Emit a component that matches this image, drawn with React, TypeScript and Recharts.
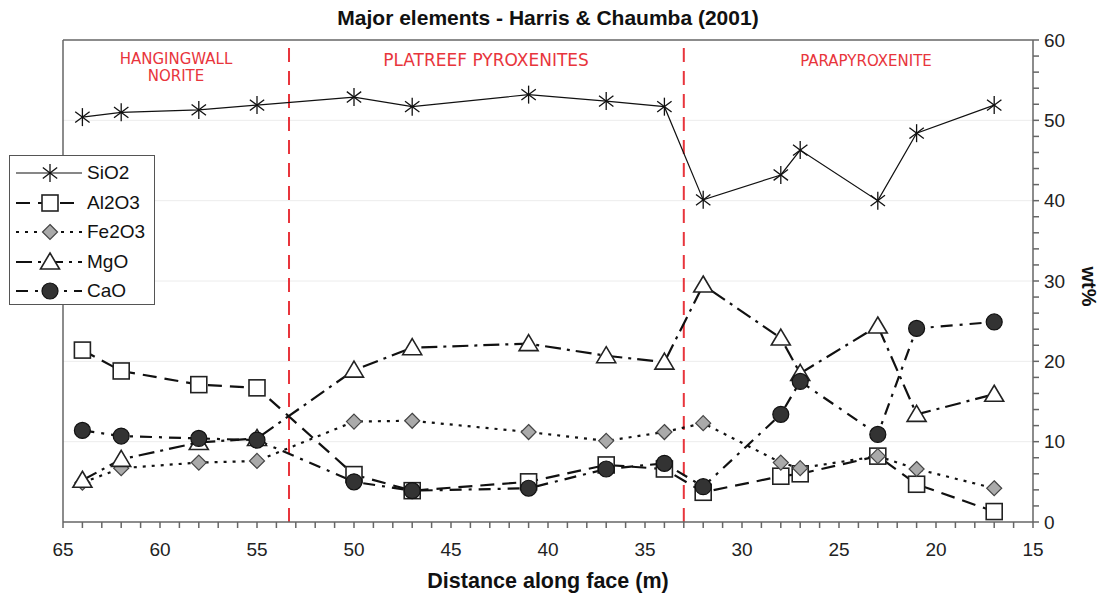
import { LineChart, Line, XAxis, YAxis, ReferenceLine } from 'recharts'

// distance along face (m)
const distance = [64, 62, 58, 55, 50, 47, 41, 37, 34, 32, 28, 27, 23, 21, 17]
const sio2 = [50.4, 51.0, 51.3, 51.9, 52.9, 51.7, 53.2, 52.4, 51.7, 40.1, 43.2, 46.3, 40.0, 48.4, 51.9]
const al2o3 = [21.4, 18.8, 17.1, 16.7, 5.9, 3.9, 5.0, 7.1, 6.6, 3.7, 5.7, 6.0, 8.2, 4.7, 1.3]
const fe2o3 = [4.9, 6.7, 7.4, 7.6, 12.5, 12.6, 11.2, 10.1, 11.2, 12.3, 7.4, 6.7, 8.2, 6.6, 4.2]
const mgo = [5.2, 7.8, 9.9, 10.4, 18.9, 21.7, 22.2, 20.7, 19.9, 29.5, 22.9, 18.5, 24.4, 13.4, 15.9]
const cao = [11.4, 10.7, 10.4, 10.2, 5.0, 3.9, 4.2, 6.6, 7.3, 4.4, 13.4, 17.5, 10.9, 24.1, 24.9]

const xTicks = [15, 16, 17, 18, 19, 20, 21, 22, 23, 24, 25, 26, 27, 28, 29, 30, 31, 32, 33, 34, 35, 36, 37, 38, 39, 40, 41, 42, 43, 44, 45, 46, 47, 48, 49, 50, 51, 52, 53, 54, 55, 56, 57, 58, 59, 60, 61, 62, 63, 64, 65]
const xLabels = [15, 20, 25, 30, 35, 40, 45, 50, 55, 60, 65]
const yTicks = [0, 2, 4, 6, 8, 10, 12, 14, 16, 18, 20, 22, 24, 26, 28, 30, 32, 34, 36, 38, 40, 42, 44, 46, 48, 50, 52, 54, 56, 58, 60]
const yLabels = [0, 10, 20, 30, 40, 50, 60]
const gridValues = [10, 20, 30, 40, 50]
const boundaries = [53.35, 33]

const data = distance.map((d, i) => ({
  d,
  sio2: sio2[i],
  al2o3: al2o3[i],
  fe2o3: fe2o3[i],
  mgo: mgo[i],
  cao: cao[i],
}))

const FONT = '"Liberation Sans", Arial, sans-serif'
const RED = '#e8353c'

function Star({ cx, cy }: { cx: number; cy: number }) {
  const r = 9
  const dx = r * 0.8
  const dy = r * 0.6
  return (
    <g stroke="#111" strokeWidth={1.3}>
      <line x1={cx} y1={cy - r} x2={cx} y2={cy + r} />
      <line x1={cx - dx} y1={cy - dy} x2={cx + dx} y2={cy + dy} />
      <line x1={cx - dx} y1={cy + dy} x2={cx + dx} y2={cy - dy} />
    </g>
  )
}
function Square({ cx, cy }: { cx: number; cy: number }) {
  return <rect x={cx - 8} y={cy - 8} width={16} height={16} fill="#fff" stroke="#222" strokeWidth={1.6} />
}
function Diamond({ cx, cy }: { cx: number; cy: number }) {
  const r = 7.5
  return (
    <polygon
      points={`${cx},${cy - r} ${cx + r},${cy} ${cx},${cy + r} ${cx - r},${cy}`}
      fill="#aaa"
      stroke="#444"
      strokeWidth={1.2}
    />
  )
}
function Triangle({ cx, cy }: { cx: number; cy: number }) {
  return (
    <polygon
      points={`${cx},${cy - 9} ${cx + 9.5},${cy + 7} ${cx - 9.5},${cy + 7}`}
      fill="#fff"
      stroke="#222"
      strokeWidth={1.6}
    />
  )
}
function Dot({ cx, cy }: { cx: number; cy: number }) {
  return <circle cx={cx} cy={cy} r={8} fill="#333" stroke="#111" strokeWidth={1.2} />
}

const mk = (Shape: any) => (p: any) => <Shape key={p.index} cx={p.cx} cy={p.cy} />

const series = [
  { key: 'sio2', name: 'SiO2', dash: undefined, width: 1.2, shape: Star },
  { key: 'al2o3', name: 'Al2O3', dash: '14 8', width: 2.2, shape: Square },
  { key: 'fe2o3', name: 'Fe2O3', dash: '3 6', width: 2.2, shape: Diamond },
  { key: 'mgo', name: 'MgO', dash: '16 6 3 6', width: 2.2, shape: Triangle },
  { key: 'cao', name: 'CaO', dash: '12 7 3 7', width: 2.2, shape: Dot },
]

function LegendBox() {
  return (
    <div
      style={{
        position: 'absolute',
        left: 9,
        top: 155,
        width: 144,
        height: 148,
        border: '1.5px solid #555',
        background: '#fff',
        fontFamily: FONT,
        fontSize: 19,
        color: '#111',
      }}
    >
      {series.map((s, i) => {
        const Shape = s.shape
        return (
          <div
            key={s.key}
            style={{ position: 'absolute', left: 0, top: 3 + i * 29.5, height: 28, display: 'flex', alignItems: 'center' }}
          >
            <svg width={76} height={28}>
              <line x1={6} y1={14} x2={72} y2={14} stroke="#111" strokeWidth={s.width} strokeDasharray={s.dash} />
              <Shape cx={40} cy={14} />
            </svg>
            <span style={{ marginLeft: 1 }}>{s.name}</span>
          </div>
        )
      })}
    </div>
  )
}

const regionStyle = {
  position: 'absolute' as const,
  color: RED,
  fontFamily: '"DejaVu Sans", Verdana, sans-serif',
  textAlign: 'center' as const,
  lineHeight: '17px',
}

export default function App() {
  return (
    <div style={{ position: 'fixed', left: 0, top: 0, width: 1105, height: 599, background: '#fff' }}>
      <LineChart width={1105} height={599} data={data} margin={{ top: 40, left: 63, right: 22, bottom: 37 }}>
        {gridValues.map((v) => (
          <ReferenceLine key={v} y={v} stroke="#ececec" strokeWidth={1} />
        ))}
        <ReferenceLine y={60} stroke="#666" strokeWidth={1.5} />
        <ReferenceLine x={65} stroke="#666" strokeWidth={1.5} />
        {boundaries.map((b) => (
          <ReferenceLine key={b} x={b} stroke={RED} strokeWidth={2} strokeDasharray="14 9" />
        ))}
        <XAxis
          type="number"
          dataKey="d"
          domain={[15, 65]}
          reversed
          ticks={xTicks}
          interval={0}
          tickFormatter={(v) => (xLabels.includes(v) ? String(v) : '')}
          stroke="#666"
          strokeWidth={1.5}
          tickSize={6}
          tickMargin={15}
          tick={{ fill: '#222', fontSize: 19, fontFamily: FONT }}
          height={40}
        />
        <YAxis
          orientation="right"
          domain={[0, 60]}
          ticks={yTicks}
          interval={0}
          tickFormatter={(v) => (yLabels.includes(v) ? String(v) : '')}
          stroke="#666"
          strokeWidth={1.5}
          tickSize={6}
          tickMargin={5}
          tick={{ fill: '#222', fontSize: 19, fontFamily: FONT }}
          width={50}
        />
        {series.map((s) => (
          <Line
            key={s.key}
            dataKey={s.key}
            name={s.name}
            type="linear"
            stroke="#111"
            strokeWidth={s.width}
            strokeDasharray={s.dash}
            dot={mk(s.shape)}
            activeDot={false}
            isAnimationActive={false}
          />
        ))}
      </LineChart>

      <div
        style={{
          position: 'absolute',
          left: 0,
          width: 1096,
          top: 6,
          textAlign: 'center',
          fontFamily: FONT,
          fontWeight: 'bold',
          fontSize: 21,
          color: '#111',
        }}
      >
        Major elements - Harris &amp; Chaumba (2001)
      </div>
      <div
        style={{
          position: 'absolute',
          left: 0,
          width: 1096,
          top: 569,
          textAlign: 'center',
          fontFamily: FONT,
          fontWeight: 'bold',
          fontSize: 21.5,
          color: '#111',
        }}
      >
        Distance along face (m)
      </div>
      <div
        style={{
          position: 'absolute',
          left: 1058,
          top: 275,
          width: 60,
          textAlign: 'center',
          transform: 'rotate(90deg)',
          fontFamily: FONT,
          fontWeight: 'bold',
          fontSize: 20,
          color: '#111',
        }}
      >
        wt%
      </div>

      <div style={{ ...regionStyle, left: 96, width: 160, top: 51, fontSize: 15 }}>
        HANGINGWALL
        <br />
        NORITE
      </div>
      <div style={{ ...regionStyle, left: 366, width: 240, top: 52, fontSize: 17 }}>PLATREEF PYROXENITES</div>
      <div style={{ ...regionStyle, left: 776, width: 180, top: 53, fontSize: 15 }}>PARAPYROXENITE</div>

      <LegendBox />
    </div>
  )
}
